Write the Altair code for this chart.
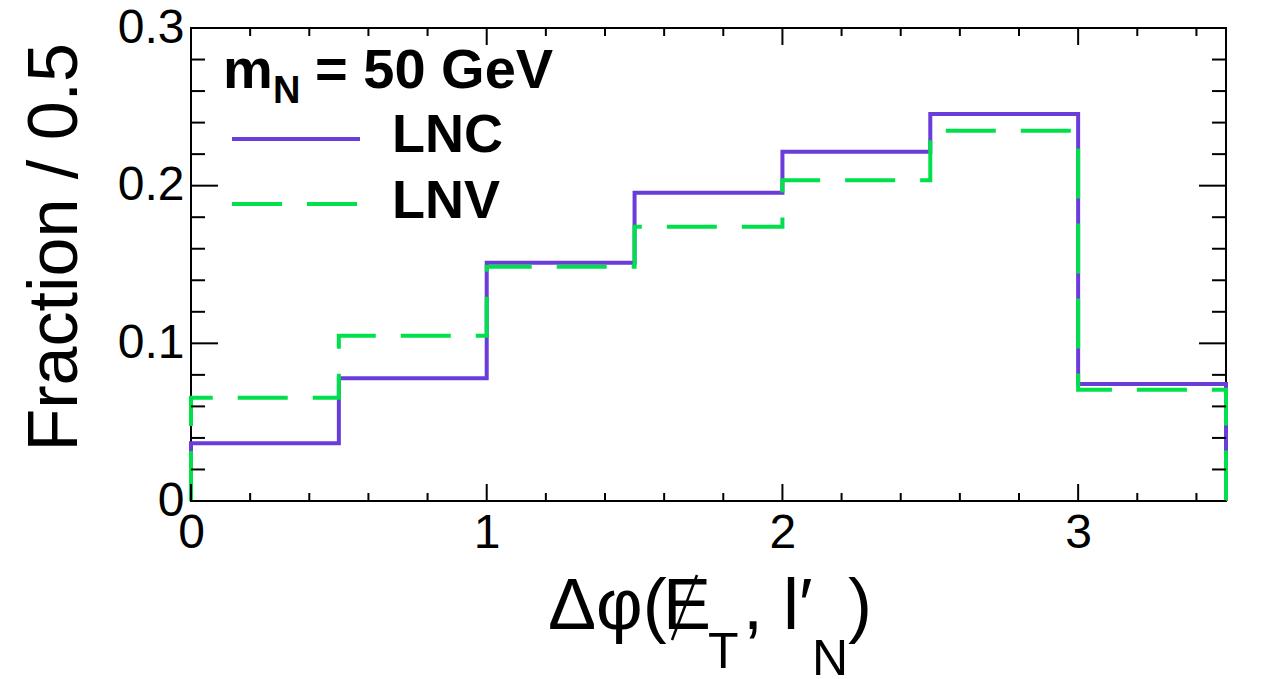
import altair as alt
import pandas as pd

# ---- data ----
bin_edges = [0.0, 0.5, 1.0, 1.5, 2.0, 2.5, 3.0, 3.5]
lnc_values = [0.0366, 0.0778, 0.1511, 0.1955, 0.2215, 0.2454, 0.0742]
lnv_values = [0.0655, 0.1048, 0.1486, 0.1739, 0.2035, 0.2348, 0.0706]

x_major = [0, 1, 2, 3]
x_minor = [0.2, 0.4, 0.6, 0.8, 1.2, 1.4, 1.6, 1.8, 2.2, 2.4, 2.6, 2.8, 3.2, 3.4]
y_major = [0.0, 0.1, 0.2, 0.3]
y_minor = [0.02, 0.04, 0.06, 0.08, 0.12, 0.14, 0.16, 0.18, 0.22, 0.24, 0.26, 0.28]

W, H = 1035, 473
FONT = "Liberation Sans"
PURPLE = "#6a3ddb"
GREEN = "#00e04a"


def outline(values):
    rows = [(bin_edges[0], 0.0)]
    for i, v in enumerate(values):
        rows.append((bin_edges[i], v))
        rows.append((bin_edges[i + 1], v))
    rows.append((bin_edges[-1], 0.0))
    return pd.DataFrame({"x": [r[0] for r in rows], "y": [r[1] for r in rows],
                         "o": list(range(len(rows)))})


xscale = alt.Scale(domain=[0, 3.5], nice=False, zero=False)
yscale = alt.Scale(domain=[0, 0.3], nice=False, zero=False)
xaxis = alt.Axis(values=x_major, title=None, format="d", labelPadding=8,
                 labelFont=FONT, labelFontSize=48, labelColor="black",
                 ticks=False, domain=False, grid=False, labelFlush=False)
yaxis = alt.Axis(values=y_major, title=None, labelPadding=7,
                 labelFont=FONT, labelFontSize=48, labelColor="black",
                 ticks=False, domain=False, grid=False, labelFlush=False,
                 labelExpr="datum.value == 0 ? '0' : format(datum.value, '.1f')")

lnc_line = alt.Chart(outline(lnc_values)).mark_line(
    color=PURPLE, strokeWidth=4, strokeJoin="miter", strokeCap="butt"
).encode(
    x=alt.X("x:Q", scale=xscale, axis=xaxis),
    y=alt.Y("y:Q", scale=yscale, axis=yaxis),
    order="o:Q",
)

lnv_line = alt.Chart(outline(lnv_values)).mark_line(
    color=GREEN, strokeWidth=4, strokeDash=[50, 25], strokeJoin="miter", strokeCap="butt"
).encode(
    x=alt.X("x:Q", scale=xscale, axis=xaxis),
    y=alt.Y("y:Q", scale=yscale, axis=yaxis),
    order="o:Q",
)


def xticks(vals, length, top):
    df = pd.DataFrame({"x": vals})
    if top:
        yy, yy2 = 0, length
    else:
        yy, yy2 = H, H - length
    return alt.Chart(df).mark_rule(color="black", strokeWidth=2).encode(
        x=alt.X("x:Q", scale=xscale, axis=xaxis),
        y=alt.value(yy), y2=alt.value(yy2))


def yticks(vals, length, right):
    df = pd.DataFrame({"y": vals})
    if right:
        xx, xx2 = W, W - length
    else:
        xx, xx2 = 0, length
    return alt.Chart(df).mark_rule(color="black", strokeWidth=2).encode(
        y=alt.Y("y:Q", scale=yscale, axis=yaxis),
        x=alt.value(xx), x2=alt.value(xx2))


ticks = [
    xticks(x_major, 17, False), xticks(x_minor, 8, False),
    xticks(x_major, 17, True), xticks(x_minor, 8, True),
    yticks(y_major, 27, False), yticks(y_minor, 14, False),
    yticks(y_major, 27, True), yticks(y_minor, 14, True),
]

one = pd.DataFrame({"a": [0]})


def txt(s, x, y, size, bold=False, align="left", angle=0):
    kw = dict(text=s, font=FONT, fontSize=size, align=align, baseline="alphabetic",
              color="black", fontWeight="bold" if bold else "normal")
    if angle:
        kw["angle"] = angle
    return alt.Chart(one).mark_text(**kw).encode(x=alt.value(x), y=alt.value(y))


texts = [
    # y title
    txt("Fraction / 0.5", -114, 15, 70, align="right", angle=270),
    # x title pieces
    txt("Δφ(", 357, 601, 72),
    txt("E", 472, 601, 72),
    txt("T", 517, 640, 50),
    txt(",", 552, 601, 72),
    txt("l′", 592, 601, 72),
    txt("N", 621, 647, 50),
    txt(")", 657, 601, 72),
    # legend header
    txt("m", 32, 60, 56, bold=True),
    txt("N", 82, 75, 38, bold=True),
    txt("= 50 GeV", 124, 60, 56, bold=True),
    txt("LNC", 201, 124, 54, bold=True),
    txt("LNV", 201, 190, 54, bold=True),
]

slash = alt.Chart(one).mark_rule(color="black", strokeWidth=2.5).encode(
    x=alt.value(481), x2=alt.value(506), y=alt.value(612), y2=alt.value(547))

leg_lnc = alt.Chart(one).mark_rule(color=PURPLE, strokeWidth=4).encode(
    x=alt.value(41), x2=alt.value(169), y=alt.value(111))
leg_lnv = alt.Chart(one).mark_rule(color=GREEN, strokeWidth=4, strokeDash=[50, 25]).encode(
    x=alt.value(41), x2=alt.value(166), y=alt.value(176))

chart = alt.layer(
    lnc_line, lnv_line, *ticks, *texts, slash, leg_lnc, leg_lnv
).properties(
    width=W, height=H,
    background="white",
    autosize=alt.AutoSizeParams(type="none"),
    padding={"left": 183, "top": 20, "right": 40, "bottom": 176},
).configure_view(
    stroke="black", strokeWidth=2
)

chart.save("out.html", embed_options={"renderer": "svg", "actions": False})
